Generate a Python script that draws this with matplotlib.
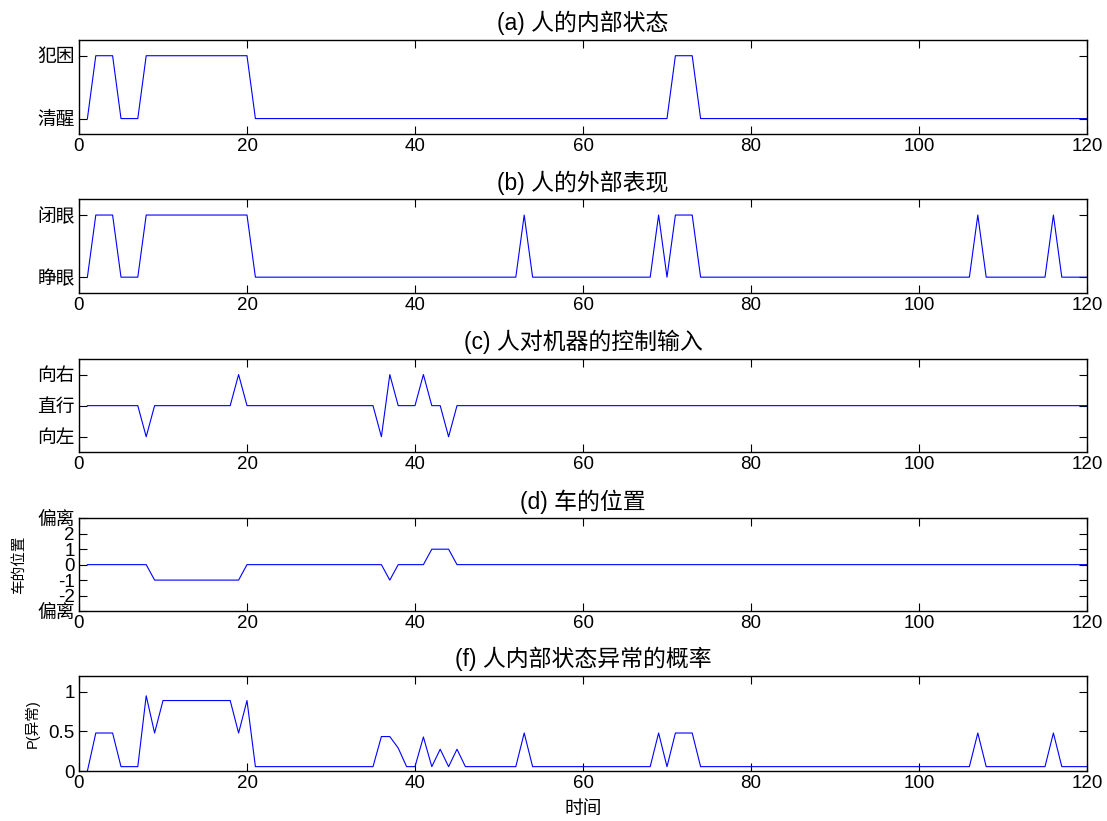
import matplotlib
matplotlib.use('Agg')
import matplotlib.pyplot as plt

plt.rcParams['font.family'] = ['Liberation Sans', 'Noto Sans CJK SC', 'DejaVu Sans']
plt.rcParams['axes.unicode_minus'] = False

# 시간축 1..120
t = list(range(1, 121))

def steps(pairs, default, n=120):
    # (시간, 값) 꺾은점 목록 -> 전체 시계열
    out = [default] * n
    for k, v in pairs:
        out[k - 1] = v
    return out

# (a) 人的内部状态 : 0=清醒, 1=犯困
state_pts = [(2, 1), (3, 1), (4, 1), (8, 1), (9, 1), (10, 1), (11, 1), (12, 1), (13, 1),
             (14, 1), (15, 1), (16, 1), (17, 1), (18, 1), (19, 1), (20, 1),
             (71, 1), (72, 1), (73, 1)]
state = steps(state_pts, 0)

# (b) 人的外部表现 : 0=睁眼, 1=闭眼
eye_pts = state_pts + [(53, 1), (69, 1), (107, 1), (116, 1)]
eye = steps(eye_pts, 0)

# (c) 人对机器的控制输入 : -1=向左, 0=直行, 1=向右
ctrl_pts = [(8, -1), (19, 1), (36, -1), (37, 1), (41, 1), (44, -1)]
ctrl = steps(ctrl_pts, 0)

# (d) 车的位置
pos_pts = [(9, -1), (10, -1), (11, -1), (12, -1), (13, -1), (14, -1), (15, -1), (16, -1),
           (17, -1), (18, -1), (19, -1), (37, -1), (42, 1), (43, 1), (44, 1)]
pos = steps(pos_pts, 0)

# (f) 人内部状态异常的概率
prob_pts = [(1, 0.0), (2, 0.48), (3, 0.48), (4, 0.48), (8, 0.95), (9, 0.48),
            (10, 0.89), (11, 0.89), (12, 0.89), (13, 0.89), (14, 0.89), (15, 0.89),
            (16, 0.89), (17, 0.89), (18, 0.89), (19, 0.48), (20, 0.89),
            (36, 0.435), (37, 0.435), (38, 0.29), (41, 0.43), (43, 0.275), (45, 0.275),
            (53, 0.48), (69, 0.48), (71, 0.48), (72, 0.48), (73, 0.48),
            (107, 0.48), (116, 0.48)]
prob = steps(prob_pts, 0.055)

xticks = [0, 20, 40, 60, 80, 100, 120]

fig = plt.figure(figsize=(11.07, 8.21), dpi=100)
W, H = 1107.0, 821.0
left, right = 79, 1087
tops = [40, 199.5, 359, 518.3, 676]
bots = [134.3, 292.7, 452.3, 611, 771]

panels = [
    ('(a) 人的内部状态', state, (-0.25, 1.25), [0, 1], ['清醒', '犯困'], None, 0),
    ('(b) 人的外部表现', eye, (-0.25, 1.25), [0, 1], ['睁眼', '闭眼'], None, 0),
    ('(c) 人对机器的控制输入', ctrl, (-1.5, 1.5), [-1, 0, 1], ['向左', '直行', '向右'], None, 0),
    ('(d) 车的位置', pos, (-3, 3), [-3, -2, -1, 0, 1, 2, 3],
     ['偏离', '-2', '-1', '0', '1', '2', '偏离'], '车的位置', 8),
    ('(f) 人内部状态异常的概率', prob, (0, 1.2), [0, 0.5, 1], ['0', '0.5', '1'], 'P(异常)', 6),
]

for i, (title, y, ylim, yt, ytl, ylab, lpad) in enumerate(panels):
    ax = fig.add_axes([left / W, 1 - bots[i] / H, (right - left) / W, (bots[i] - tops[i]) / H])
    ax.plot(t, y, color='#0000ff', lw=0.8)
    ax.set_xlim(0, 120)
    ax.set_ylim(*ylim)
    ax.set_xticks(xticks)
    ax.set_yticks(yt)
    ax.set_yticklabels(ytl)
    ax.tick_params(direction='in', top=True, right=True, labelsize=13.5,
                   length=6, width=0.8, pad=3)
    for s in ax.spines.values():
        s.set_linewidth(1.0)
    ax.set_title(title, fontsize=16.5, pad=7)
    if ylab:
        ax.set_ylabel(ylab, fontsize=10.5, labelpad=lpad)
    if i == 4:
        ax.set_xlabel('时间', fontsize=13.5, labelpad=6)

plt.savefig('out.png', dpi=100)
